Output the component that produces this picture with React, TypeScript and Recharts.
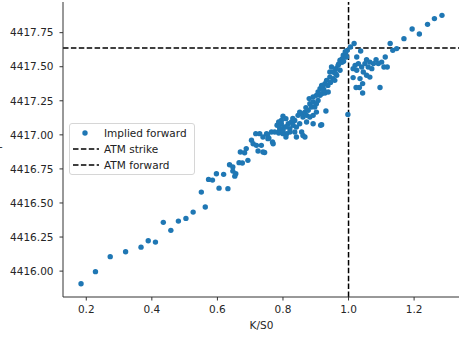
import React from "react"
import {
  ScatterChart,
  Scatter,
  XAxis,
  YAxis,
  ReferenceLine,
} from "recharts"

// K/S0 of each strike
const kOverS0 = [
  0.184, 0.228, 0.273, 0.32, 0.367, 0.389, 0.411, 0.435, 0.458, 0.481,
  0.504, 0.526, 0.551, 0.563, 0.573, 0.585, 0.597, 0.605, 0.619, 0.632,
  0.637, 0.647, 0.656, 0.653, 0.647, 0.666, 0.676, 0.693, 0.67, 0.683,
  0.688, 0.704, 0.709, 0.717, 0.729, 0.719, 0.724, 0.734, 0.739, 0.744,
  0.739, 0.75, 0.754, 0.765, 0.768, 0.77, 0.753, 0.757, 0.775, 0.782,
  0.787, 0.787, 0.8, 0.809, 0.795, 0.79, 0.805, 0.816, 0.811, 0.8,
  0.809, 0.821, 0.826, 0.831, 0.836, 0.846, 0.851, 0.857, 0.861, 0.867,
  0.841, 0.836, 0.841, 0.857, 0.861, 0.851, 0.872, 0.877, 0.882, 0.88,
  0.887, 0.892, 0.897, 0.902, 0.907, 0.913, 0.918, 0.928, 0.938, 0.892,
  0.918, 0.931, 0.867, 0.882, 0.892, 0.902, 0.872, 0.915, 0.821, 0.795,
  0.8, 0.902, 0.892, 0.907, 0.913, 0.918, 0.928, 0.933, 0.943, 0.953,
  0.964, 0.943, 0.953, 0.948, 0.961, 0.968, 0.974, 0.981, 0.984, 0.991,
  0.994, 0.996, 1.006, 1.017, 0.998, 0.922, 0.937, 0.958, 0.974, 0.98,
  1.037, 1.025, 1.03, 1.02, 1.014, 1.025, 1.04, 1.05, 1.055, 1.065,
  1.076, 1.084, 1.091, 1.101, 1.06, 1.071, 1.045, 1.055, 1.065, 1.035,
  1.014, 1.043, 1.033, 1.023, 1.043, 1.112, 1.118, 1.108, 1.096, 1.127,
  1.135, 1.147, 1.169, 1.194, 1.216, 1.241, 1.262, 1.285, 0.945, 0.96,
  0.985, 0.97, 0.925, 0.81, 0.83, 0.87, 0.79, 0.99,
]

// implied forward for each strike, same order
const impliedForward = [
  4415.907, 4415.996, 4416.106, 4416.142, 4416.176, 4416.223, 4416.213, 4416.358, 4416.299, 4416.367,
  4416.387, 4416.433, 4416.58, 4416.47, 4416.673, 4416.668, 4416.715, 4416.609, 4416.71, 4416.605,
  4416.781, 4416.734, 4416.715, 4416.697, 4416.764, 4416.796, 4416.793, 4416.813, 4416.874, 4416.869,
  4416.899, 4416.96, 4416.935, 4417.009, 4417.009, 4416.923, 4416.881, 4416.923, 4416.874, 4416.87,
  4416.984, 4417.009, 4416.972, 4417.021, 4416.947, 4416.935, 4417.001, 4416.976, 4417.021, 4417.07,
  4417.094, 4417.013, 4417.136, 4417.119, 4417.082, 4417.033, 4417.057, 4417.082, 4417.009, 4417.009,
  4416.984, 4417.045, 4417.094, 4417.07, 4417.106, 4417.143, 4417.167, 4417.156, 4417.131, 4417.167,
  4417.057, 4417.021, 4416.984, 4417.021, 4416.996, 4417.082, 4417.143, 4417.18, 4417.229, 4417.266,
  4417.204, 4417.241, 4417.204, 4417.229, 4417.253, 4417.29, 4417.302, 4417.307, 4417.314, 4417.082,
  4417.075, 4417.175, 4416.984, 4417.131, 4417.143, 4417.167, 4417.094, 4417.07, 4417.021, 4417.106,
  4417.033, 4417.29, 4417.278, 4417.314, 4417.339, 4417.363, 4417.376, 4417.4, 4417.424, 4417.413,
  4417.437, 4417.461, 4417.461, 4417.498, 4417.486, 4417.51, 4417.547, 4417.559, 4417.584, 4417.596,
  4417.571, 4417.62, 4417.645, 4417.67, 4417.15, 4417.349, 4417.363, 4417.4, 4417.474, 4417.532,
  4417.615, 4417.571, 4417.523, 4417.51, 4417.486, 4417.474, 4417.498, 4417.523, 4417.552, 4417.534,
  4417.523, 4417.552, 4417.523, 4417.534, 4417.498, 4417.486, 4417.461, 4417.437, 4417.424, 4417.413,
  4417.42, 4417.376, 4417.347, 4417.347, 4417.307, 4417.571, 4417.498, 4417.498, 4417.347, 4417.67,
  4417.62, 4417.633, 4417.706, 4417.777, 4417.74, 4417.811, 4417.853, 4417.877, 4417.385, 4417.45,
  4417.54, 4417.52, 4417.33, 4417.06, 4417.12, 4417.2, 4417.05, 4417.61,
]

const atmStrike = 1.0
const atmForward = 4417.637

const xTicks = [0.2, 0.4, 0.6, 0.8, 1.0, 1.2]
const yTicks = [4416.0, 4416.25, 4416.5, 4416.75, 4417.0, 4417.25, 4417.5, 4417.75]

const xDomain = [0.129, 1.34]
const yDomain = [4415.81, 4417.975]

const BLUE = "#1f77b4"
const FONT = "DejaVu Sans"
const AXIS = "#333"

const data = kOverS0.map((k, i) => ({ k, f: impliedForward[i] }))

const tickStyle = { fontSize: 10.5, fill: "#262626", fontFamily: FONT }

const Dot = (props: any) => <circle cx={props.cx} cy={props.cy} r={2.7} fill={BLUE} />

function ChartLegend() {
  const row: React.CSSProperties = {
    height: 16.3,
    display: "flex",
    alignItems: "center",
    position: "relative",
  }
  const label: React.CSSProperties = { position: "absolute", left: 34, whiteSpace: "nowrap" }
  const dash = (
    <svg width={28} height={4} style={{ position: "absolute", left: 3 }}>
      <line x1={0} y1={2} x2={26} y2={2} stroke="#000" strokeWidth={1.5} strokeDasharray="5.5 2.4" />
    </svg>
  )
  return (
    <div
      style={{
        position: "absolute",
        left: 69,
        top: 123,
        width: 126,
        height: 52,
        boxSizing: "border-box",
        border: "1px solid #d6d6d6",
        borderRadius: 3,
        background: "rgba(255,255,255,0.8)",
        paddingTop: 0.5,
        fontFamily: FONT,
        fontSize: 10.5,
        color: "#222",
      }}
    >
      <div style={row}>
        <svg width={8} height={8} style={{ position: "absolute", left: 11 }}>
          <circle cx={4} cy={4} r={2.7} fill={BLUE} />
        </svg>
        <span style={label}>Implied forward</span>
      </div>
      <div style={row}>
        {dash}
        <span style={label}>ATM strike</span>
      </div>
      <div style={row}>
        {dash}
        <span style={label}>ATM forward</span>
      </div>
    </div>
  )
}

export default function App() {
  return (
    <div
      style={{
        position: "absolute",
        left: 0,
        top: 0,
        width: 459,
        height: 338,
        overflow: "hidden",
        background: "#fff",
      }}
    >
      <ScatterChart
        width={460}
        height={338}
        margin={{ top: 2, right: 0, bottom: 0, left: 0 }}
      >
        <XAxis
          dataKey="k"
          type="number"
          domain={xDomain}
          ticks={xTicks}
          allowDataOverflow
          height={41}
          tick={tickStyle}
          tickFormatter={(v: number) => v.toFixed(1)}
          tickSize={3.5}
          tickMargin={5}
          stroke={AXIS}
          label={{
            value: "K/S0",
            position: "insideBottom",
            offset: 9,
            style: { fontSize: 10.5, fill: "#262626", fontFamily: FONT },
          }}
        />
        <YAxis
          dataKey="f"
          type="number"
          domain={yDomain}
          ticks={yTicks}
          allowDataOverflow
          width={63}
          tick={tickStyle}
          tickFormatter={(v: number) => v.toFixed(2)}
          tickSize={3.5}
          tickMargin={6}
          stroke={AXIS}
        />
        <XAxis
          xAxisId="top"
          orientation="top"
          type="number"
          domain={xDomain}
          allowDataOverflow
          height={0}
          tick={false}
          tickLine={false}
          stroke={AXIS}
        />
        <YAxis
          yAxisId="right"
          orientation="right"
          type="number"
          domain={yDomain}
          allowDataOverflow
          width={0}
          tick={false}
          tickLine={false}
          stroke={AXIS}
        />
        <Scatter data={data} shape={Dot} isAnimationActive={false} />
        <ReferenceLine
          x={atmStrike}
          stroke="#000"
          strokeWidth={1.5}
          strokeDasharray="5.5 2.4"
        />
        <ReferenceLine
          y={atmForward}
          stroke="#000"
          strokeWidth={1.5}
          strokeDasharray="5.5 2.4"
        />
      </ScatterChart>
      <ChartLegend />
      <span
        style={{
          position: "absolute",
          left: -1,
          top: 142,
          fontFamily: FONT,
          fontSize: 10,
          lineHeight: "10px",
          color: "#262626",
        }}
      >
        -
      </span>
    </div>
  )
}
